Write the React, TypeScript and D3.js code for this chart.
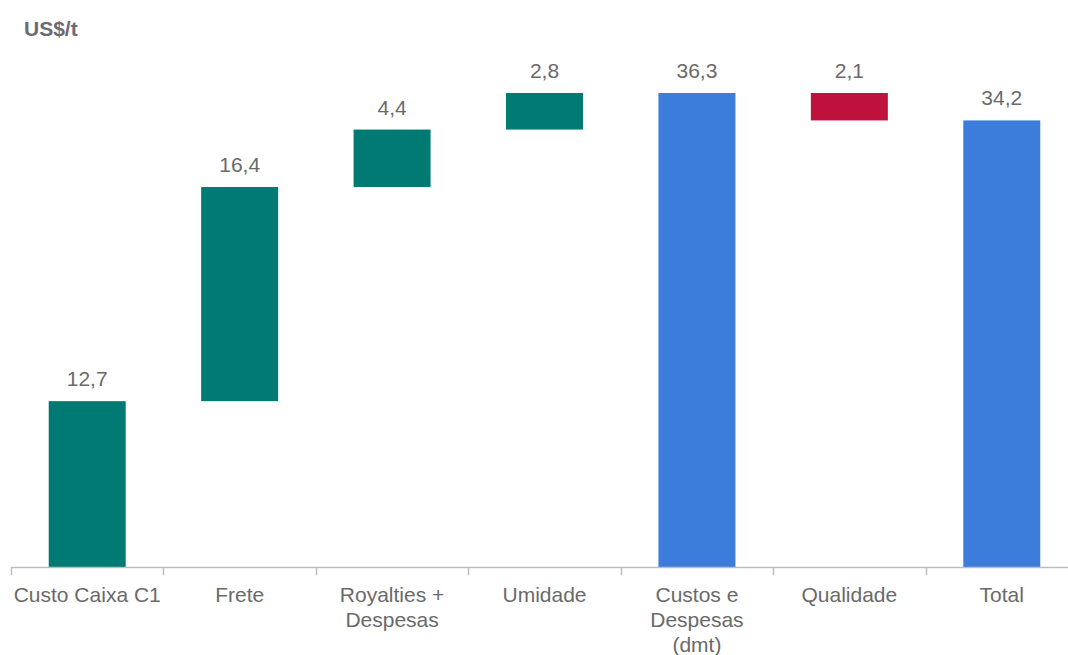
import React from "react";
import * as d3 from "d3";

const categories: string[][] = [
  ["Custo Caixa C1"],
  ["Frete"],
  ["Royalties +", "Despesas"],
  ["Umidade"],
  ["Custos e", "Despesas", "(dmt)"],
  ["Qualidade"],
  ["Total"],
];
const values: number[] = [12.7, 16.4, 4.4, 2.8, 36.3, -2.1, 34.2];
const kinds: string[] = ["delta", "delta", "delta", "delta", "total", "delta", "total"];
const labels: string[] = ["12,7", "16,4", "4,4", "2,8", "36,3", "2,1", "34,2"];

const W = 1068;
const H = 655;
const left = 11;
const right = 1078;
const base = 567;
const font = "'Liberation Sans', Arial, sans-serif";
const textColor = "#6a6a6a";

export default function App() {
  const ids = categories.map((_, i) => String(i));
  const x = d3.scaleBand<string>().domain(ids).range([left, right]).paddingInner(0.495).paddingOuter(0.2475);
  const edge = d3.scaleLinear().domain([0, categories.length]).range([left, right]);
  const y = d3.scaleLinear().domain([0, 36.3]).range([base, 93]);

  let run = 0;
  const bars = values.map((v, i) => {
    let y0: number, y1: number, color: string;
    if (kinds[i] === "total") {
      y0 = 0; y1 = v; run = v; color = "#3C7DDB";
    } else {
      y0 = run; y1 = run + v; run = y1; color = v >= 0 ? "#007A72" : "#BE123C";
    }
    return { lo: Math.min(y0, y1), hi: Math.max(y0, y1), color };
  });

  return (
    <svg width={W} height={H} style={{ position: "absolute", left: 0, top: 0 }}>
      <rect width={W} height={H} fill="#fff" />
      <text x={24} y={36} fontFamily={font} fontSize={21} fontWeight="bold" fill="#6a6a72">US$/t</text>
      {bars.map((b, i) => (
        <g key={i}>
          <rect x={x(ids[i])} y={y(b.hi)} width={x.bandwidth()} height={y(b.lo) - y(b.hi)} fill={b.color} />
          <text x={(x(ids[i]) as number) + x.bandwidth() / 2} y={y(b.hi) - 15} textAnchor="middle" fontFamily={font} fontSize={21} fill={textColor}>{labels[i]}</text>
        </g>
      ))}
      <line x1={left} x2={right} y1={base + 0.5} y2={base + 0.5} stroke="#bdbdbd" strokeWidth={1.5} />
      {d3.range(categories.length + 1).map((i) => (
        <line key={i} x1={Math.round(edge(i)) + 0.5} x2={Math.round(edge(i)) + 0.5} y1={base} y2={base + 8} stroke="#bdbdbd" strokeWidth={1.5} />
      ))}
      {categories.map((lines, i) => (
        <text key={i} textAnchor="middle" fontFamily={font} fontSize={21} fill={textColor}>
          {lines.map((l, j) => (
            <tspan key={j} x={(x(ids[i]) as number) + x.bandwidth() / 2} y={602 + j * 25}>{l}</tspan>
          ))}
        </text>
      ))}
    </svg>
  );
}
